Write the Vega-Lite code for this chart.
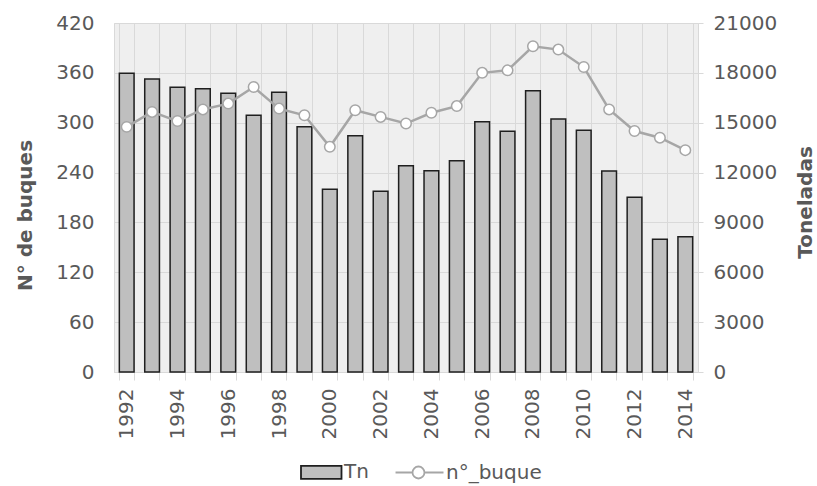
{
  "$schema": "https://vega.github.io/schema/vega-lite/v6.json",
  "width": 584,
  "height": 349,
  "autosize": {"type": "none"},
  "padding": {"left": 114, "top": 23, "right": 119, "bottom": 114},
  "background": "white",
  "config": {
    "font": "DejaVu Sans",
    "view": {"fill": "#efefef", "stroke": "#d9d9d9", "strokeWidth": 1},
    "axis": {
      "labelFont": "DejaVu Sans",
      "labelFontSize": 20,
      "labelColor": "#595959",
      "titleFont": "DejaVu Sans",
      "titleFontSize": 20,
      "titleFontWeight": "bold",
      "titleColor": "#595959",
      "gridColor": "#d9d9d9",
      "domainColor": "#d9d9d9",
      "tickColor": "#d9d9d9"
    },
    "legend": {
      "orient": "none",
      "legendX": 198,
      "legendY": 439,
      "direction": "horizontal",
      "symbolSize": 169,
      "labelOffset": 12,
      "columnPadding": 22,
      "labelFont": "DejaVu Sans",
      "labelFontSize": 20,
      "labelColor": "#595959",
      "padding": 0,
      "symbolOpacity": 1
    }
  },
  "data": {
    "values": [
      {"year": 1992, "tn": 17970, "buques": 295},
      {"year": 1993, "tn": 17630, "buques": 313},
      {"year": 1994, "tn": 17130, "buques": 302},
      {"year": 1995, "tn": 17050, "buques": 316},
      {"year": 1996, "tn": 16770, "buques": 323},
      {"year": 1997, "tn": 15450, "buques": 343},
      {"year": 1998, "tn": 16830, "buques": 317},
      {"year": 1999, "tn": 14760, "buques": 309},
      {"year": 2000, "tn": 10990, "buques": 271},
      {"year": 2001, "tn": 14220, "buques": 315},
      {"year": 2002, "tn": 10870, "buques": 307},
      {"year": 2003, "tn": 12410, "buques": 299},
      {"year": 2004, "tn": 12110, "buques": 312},
      {"year": 2005, "tn": 12710, "buques": 320},
      {"year": 2006, "tn": 15060, "buques": 360},
      {"year": 2007, "tn": 14480, "buques": 363},
      {"year": 2008, "tn": 16930, "buques": 392},
      {"year": 2009, "tn": 15220, "buques": 388},
      {"year": 2010, "tn": 14540, "buques": 367},
      {"year": 2011, "tn": 12090, "buques": 316},
      {"year": 2012, "tn": 10510, "buques": 290},
      {"year": 2013, "tn": 7990, "buques": 282},
      {"year": 2014, "tn": 8140, "buques": 267}
    ]
  },
  "encoding": {
    "x": {
      "field": "year",
      "type": "ordinal",
      "scale": {"paddingInner": 0.42, "paddingOuter": 0.21},
      "axis": {
        "title": null,
        "labelAngle": -90,
        "labelPadding": 8,
        "tickSize": 8,
        "tickBand": "extent",
        "grid": true,
        "labelExpr": "datum.value % 2 == 0 ? datum.label : ''"
      }
    }
  },
  "layer": [
    {
      "mark": {"type": "bar", "stroke": "#1f1f1f", "strokeWidth": 1.5},
      "encoding": {
        "y": {
          "field": "tn",
          "type": "quantitative",
          "scale": {"domain": [0, 21000], "nice": false},
          "axis": {
            "orient": "right",
            "title": "Toneladas",
            "values": [0, 3000, 6000, 9000, 12000, 15000, 18000, 21000],
            "format": "d",
            "grid": false,
            "domain": false,
            "tickSize": 5,
            "labelPadding": 10,
            "titleAngle": -90,
            "titleX": 107,
            "titleY": 179,
            "titleAlign": "center",
            "titleBaseline": "middle"
          }
        },
        "fill": {
          "datum": "Tn",
          "type": "nominal",
          "scale": {"domain": ["Tn", "n°_buque"], "range": ["#bfbfbf", "#ffffff"]},
          "legend": {
            "title": null,
            "encode": {
              "symbols": {
                "update": {
                  "shape": {"signal": "datum.value === 'Tn' ? 'M-3.23,-1H3V1H-3.23Z' : 'M-4.38,0H-1.77M0.07,0H3M-1.77,0A0.92,0.92 0 1,1 0.07,0A0.92,0.92 0 1,1 -1.77,0'"},
                  "strokeWidth": {"value": 1.8},
                  "opacity": {"value": 1}
                }
              }
            }
          }
        }
      }
    },
    {
      "mark": {
        "type": "line",
        "strokeWidth": 2.5,
        "point": {"filled": false, "fill": "#ffffff", "size": 110, "strokeWidth": 1.5}
      },
      "encoding": {
        "y": {
          "field": "buques",
          "type": "quantitative",
          "scale": {"domain": [0, 420], "nice": false},
          "axis": {
            "orient": "left",
            "title": "N° de buques",
            "values": [0, 60, 120, 180, 240, 300, 360, 420],
            "grid": true,
            "domain": false,
            "ticks": false,
            "labelPadding": 20,
            "titleAngle": -90,
            "titleX": -89,
            "titleY": 192,
            "titleAlign": "center",
            "titleBaseline": "middle"
          }
        },
        "stroke": {
          "datum": "n°_buque",
          "type": "nominal",
          "scale": {"domain": ["Tn", "n°_buque"], "range": ["#1f1f1f", "#a6a6a6"]},
          "legend": {
            "title": null,
            "encode": {
              "symbols": {
                "update": {
                  "shape": {"signal": "datum.value === 'Tn' ? 'M-3.23,-1H3V1H-3.23Z' : 'M-4.38,0H-1.77M0.07,0H3M-1.77,0A0.92,0.92 0 1,1 0.07,0A0.92,0.92 0 1,1 -1.77,0'"},
                  "strokeWidth": {"value": 1.8},
                  "opacity": {"value": 1}
                }
              }
            }
          }
        }
      }
    }
  ],
  "resolve": {"scale": {"y": "independent"}}
}
